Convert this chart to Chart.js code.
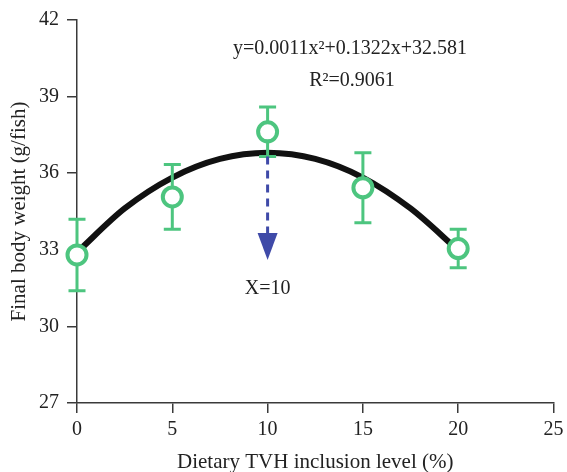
<!DOCTYPE html>
<html>
<head>
<meta charset="utf-8">
<script src="https://cdn.jsdelivr.net/npm/chart.js@4/dist/chart.umd.min.js"></script>
<style>
html,body{margin:0;padding:0;background:#fff;}
#wrap{width:567px;height:472px;position:relative;}
</style>
</head>
<body>
<div id="wrap"><canvas id="c" width="567" height="472"></canvas></div>
<script>
// ---- data ----
const levels = [0, 5, 10, 15, 20];                 // Dietary TVH inclusion level (%)
const weights = [32.8, 35.07, 37.62, 35.43, 33.05]; // Final body weight (g/fish), means
const errors = [1.4, 1.27, 0.97, 1.37, 0.75];      // error bars
const fitX = [0, 2.5, 5, 7.5, 10, 12.5, 15, 17.5, 20];
const fitY = [32.9, 34.62, 35.83, 36.56, 36.8, 36.56, 35.83, 34.62, 32.98];
const xTicks = [0, 5, 10, 15, 20, 25];
const yTicks = [27, 30, 33, 36, 39, 42];
const optimumX = 10;
const arrowFrom = 36.65, arrowTo = 32.6;
const equationText = "y=0.0011x\u00B2+0.1322x+32.581";
const r2Text = "R\u00B2=0.9061";
const optimumText = "X=10";

const GREEN = '#4dc57f';
const BLUE = '#3f4aa8';
const AXIS = '#3a3a3a';
const FONT = "'Liberation Serif', 'DejaVu Serif', serif";

const extras = {
  id: 'extras',
  afterDatasetDraw(chart, args) {
    if (args.index !== 0) return;
    const {ctx, scales:{x, y}} = chart;
    ctx.save();
    ctx.strokeStyle = GREEN;
    ctx.lineWidth = 3;
    ctx.lineCap = 'butt';
    levels.forEach((lv, i) => {
      const px = x.getPixelForValue(lv);
      const top = y.getPixelForValue(weights[i] + errors[i]);
      const bot = y.getPixelForValue(weights[i] - errors[i]);
      ctx.beginPath();
      ctx.moveTo(px, top); ctx.lineTo(px, bot);
      ctx.moveTo(px - 8.5, top); ctx.lineTo(px + 8.5, top);
      ctx.moveTo(px - 8.5, bot); ctx.lineTo(px + 8.5, bot);
      ctx.stroke();
    });
    ctx.restore();
  },
  afterDatasetsDraw(chart) {
    const {ctx, scales:{x, y}} = chart;
    ctx.save();
    const px = x.getPixelForValue(optimumX);
    const y0 = y.getPixelForValue(arrowFrom);
    const yTip = y.getPixelForValue(arrowTo);
    const headH = 27;
    ctx.strokeStyle = BLUE;
    ctx.lineWidth = 3;
    ctx.setLineDash([8, 6]);
    ctx.beginPath();
    ctx.moveTo(px, y0); ctx.lineTo(px, yTip - headH);
    ctx.stroke();
    ctx.setLineDash([]);
    ctx.fillStyle = BLUE;
    ctx.beginPath();
    ctx.moveTo(px - 10, yTip - headH);
    ctx.lineTo(px + 10, yTip - headH);
    ctx.lineTo(px, yTip);
    ctx.closePath();
    ctx.fill();

    ctx.fillStyle = '#222';
    ctx.font = "20px " + FONT;
    ctx.textAlign = 'center';
    ctx.textBaseline = 'middle';
    ctx.fillText(optimumText, px, yTip + 29);
    ctx.fillText(equationText, 350, 49);
    ctx.fillText(r2Text, 352, 81);
    ctx.restore();
  }
};

new Chart(document.getElementById('c'), {
  type: 'scatter',
  data: {
    datasets: [
      {
        type: 'line',
        data: fitX.map((v, i) => ({x: v, y: fitY[i]})),
        borderColor: '#111',
        borderWidth: 6,
        pointRadius: 0,
        tension: 0.4,
        cubicInterpolationMode: 'monotone',
        fill: false,
        clip: false,
        order: 2
      },
      {
        data: levels.map((v, i) => ({x: v, y: weights[i]})),
        pointStyle: 'circle',
        pointRadius: 9.5,
        pointHoverRadius: 9.5,
        borderWidth: 4,
        pointBorderWidth: 4,
        borderColor: GREEN,
        backgroundColor: '#fff',
        clip: false,
        order: 1
      }
    ]
  },
  options: {
    responsive: false,
    animation: false,
    events: [],
    layout: {padding: {left: 0, right: 12, top: 20, bottom: 0}},
    plugins: {legend: {display: false}, tooltip: {enabled: false}},
    scales: {
      x: {
        type: 'linear', min: 0, max: 25,
        afterBuildTicks: s => { s.ticks = xTicks.map(v => ({value: v})); },
        afterFit: s => { s.height = 69; s.paddingLeft = 0; s.paddingRight = 0; },
        border: {color: AXIS, width: 1.5},
        grid: {drawOnChartArea: false, drawTicks: true, tickLength: 10, color: AXIS, lineWidth: 1.5},
        ticks: {color: '#222', font: {family: FONT, size: 20}, padding: 5, maxRotation: 0},
        title: {display: true, text: 'Dietary TVH inclusion level (%)', color: '#222', font: {family: FONT, size: 21, lineHeight: 0.9}, padding: {top: 0, bottom: 0}}
      },
      y: {
        type: 'linear', min: 27, max: 42,
        afterBuildTicks: s => { s.ticks = yTicks.map(v => ({value: v})); },
        afterFit: s => { s.width = 77; s.paddingTop = 0; s.paddingBottom = 0; },
        border: {color: AXIS, width: 1.5},
        grid: {drawOnChartArea: false, drawTicks: true, tickLength: 10, color: AXIS, lineWidth: 1.5},
        ticks: {color: '#222', font: {family: FONT, size: 20}, padding: 8},
        title: {display: true, text: 'Final body weight (g/fish)', color: '#222', font: {family: FONT, size: 21}, padding: {top: 7, bottom: 0}}
      }
    }
  },
  plugins: [extras]
});
</script>
</body>
</html>
